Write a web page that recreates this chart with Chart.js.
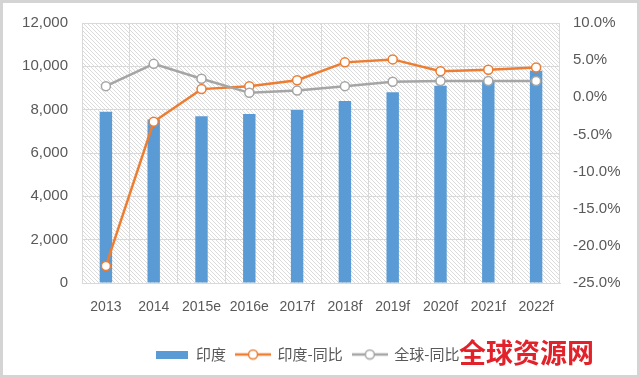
<!DOCTYPE html>
<html>
<head>
<meta charset="utf-8">
<script src="https://cdn.jsdelivr.net/npm/chart.js@4.4.1/dist/chart.umd.min.js"></script>
<style>
  html, body { margin: 0; padding: 0; background: #fff; }
  #wrap { width: 640px; height: 378px; position: relative; }
</style>
</head>
<body>
<div id="wrap"><canvas id="chart" width="640" height="378"></canvas></div>
<script>
// data
var years = ['2013', '2014', '2015e', '2016e', '2017f', '2018f', '2019f', '2020f', '2021f', '2022f'];
var indiaValues = [7900, 7550, 7700, 7800, 7980, 8400, 8800, 9100, 9300, 9800];
var indiaYoY = [-22.7, -3.3, 1.1, 1.5, 2.3, 4.7, 5.1, 3.5, 3.7, 4.0];
var globalYoY = [1.5, 4.5, 2.5, 0.6, 0.9, 1.5, 2.1, 2.2, 2.2, 2.2];
var leftTicks = [0, 2000, 4000, 6000, 8000, 10000, 12000];
var rightTicks = [-25, -20, -15, -10, -5, 0, 5, 10];

var blue = '#5B9BD5', orange = '#ED7D31', grey = '#A5A5A5';
var tickColor = '#595959';

function makeHatch() {
    var c = document.createElement('canvas');
    c.width = 4; c.height = 4;
    var g = c.getContext('2d');
    g.fillStyle = '#ffffff';
    g.fillRect(0, 0, 4, 4);
    g.strokeStyle = '#dadada';
    g.lineWidth = 1;
    g.beginPath();
    g.moveTo(-1, -1); g.lineTo(5, 5);
    g.moveTo(-1, 3); g.lineTo(1, 5);
    g.moveTo(3, -1); g.lineTo(5, 1);
    g.stroke();
    return c;
}

function barIcon() {
    var c = document.createElement('canvas');
    c.width = 32; c.height = 8;
    var g = c.getContext('2d');
    g.fillStyle = blue;
    g.fillRect(0, 0, 32, 8);
    return c;
}

function lineIcon(color) {
    var c = document.createElement('canvas');
    c.width = 36; c.height = 12;
    var g = c.getContext('2d');
    g.strokeStyle = color;
    g.lineWidth = 2.5;
    g.beginPath();
    g.moveTo(0, 6); g.lineTo(36, 6);
    g.stroke();
    g.beginPath();
    g.arc(18, 6, 4.5, 0, Math.PI * 2);
    g.fillStyle = '#fff';
    g.fill();
    g.lineWidth = 1.5;
    g.stroke();
    return c;
}

var icons = [barIcon(), lineIcon(orange), lineIcon(grey)];

var decor = {
    id: 'decor',
    afterLayout: function (chart) {
        // legend sits a little left of centre in the original
        if (chart.legend) {
            chart.legend.left -= 26;
        }
    },
    beforeDraw: function (chart) {
        var a = chart.chartArea, ctx = chart.ctx;
        ctx.save();
        ctx.fillStyle = ctx.createPattern(makeHatch(), 'repeat');
        ctx.fillRect(a.left, a.top, a.right - a.left, a.bottom - a.top);
        ctx.restore();
    },
    afterDraw: function (chart) {
        var ctx = chart.ctx;
        ctx.save();
        ctx.strokeStyle = '#d4d4d4';
        ctx.lineWidth = 3;
        ctx.strokeRect(1.5, 1.5, chart.width - 3, chart.height - 3);
        ctx.font = 'bold 27px "Noto Sans CJK SC"';
        ctx.fillStyle = '#e2222b';
        ctx.textBaseline = 'middle';
        ctx.textAlign = 'left';
        ctx.fillText('全球资源网', 459, 353);
        ctx.restore();
    }
};

var ctx = document.getElementById('chart').getContext('2d');

var graph = new Chart(ctx, {
    type: 'bar',
    data: {
        labels: years,
        datasets: [
            {
                label: '印度',
                data: indiaValues,
                backgroundColor: blue,
                yAxisID: 'y',
                barPercentage: 0.26,
                categoryPercentage: 1,
                order: 2
            },
            {
                type: 'line',
                label: '印度-同比',
                data: indiaYoY,
                yAxisID: 'y1',
                borderColor: orange,
                borderWidth: 2.5,
                pointRadius: 4.5,
                pointBorderWidth: 1.5,
                pointBackgroundColor: '#fff',
                pointBorderColor: orange,
                tension: 0,
                order: 1
            },
            {
                type: 'line',
                label: '全球-同比',
                data: globalYoY,
                yAxisID: 'y1',
                borderColor: grey,
                borderWidth: 2.5,
                pointRadius: 4.5,
                pointBorderWidth: 1.5,
                pointBackgroundColor: '#fff',
                pointBorderColor: grey,
                tension: 0,
                order: 0
            }
        ]
    },
    options: {
        responsive: false,
        animation: false,
        layout: { padding: { top: 21, bottom: 6, left: 0, right: 0 } },
        scales: {
            x: {
                grid: { color: '#d9d9d9', drawTicks: false, offset: true },
                border: { color: '#d9d9d9' },
                ticks: { color: tickColor, padding: 16, font: { family: 'Liberation Sans', size: 14 }, maxRotation: 0 },
                afterFit: function (s) { s.height = 54; }
            },
            y: {
                position: 'left',
                min: 0, max: 12000,
                afterBuildTicks: function (s) { s.ticks = leftTicks.map(function (v) { return { value: v }; }); },
                grid: { color: '#d9d9d9', drawTicks: false },
                border: { display: false },
                ticks: {
                    color: tickColor, padding: 14,
                    font: { family: 'Liberation Sans', size: 15 },
                    callback: function (v) { return v.toLocaleString('en-US'); }
                },
                afterFit: function (s) { s.width = 82; }
            },
            y1: {
                position: 'right',
                min: -25, max: 10,
                afterBuildTicks: function (s) { s.ticks = rightTicks.map(function (v) { return { value: v }; }); },
                grid: { display: false, drawTicks: false },
                border: { display: false },
                ticks: {
                    color: tickColor, padding: 13,
                    font: { family: 'Liberation Sans', size: 15 },
                    callback: function (v) { return v.toFixed(1) + '%'; }
                },
                afterFit: function (s) { s.width = 80; }
            }
        },
        plugins: {
            legend: {
                position: 'bottom',
                labels: {
                    color: tickColor,
                    padding: 10,
                    usePointStyle: true,
                    pointStyleWidth: 34,
                    font: { family: 'Noto Sans CJK SC', size: 15 },
                    sort: function (a, b) { return a.datasetIndex - b.datasetIndex; },
                    generateLabels: function (chart) {
                        var items = Chart.defaults.plugins.legend.labels.generateLabels(chart);
                        items.forEach(function (it) { it.pointStyle = icons[it.datasetIndex]; });
                        return items;
                    }
                }
            },
            tooltip: { enabled: false }
        }
    },
    plugins: [decor]
});
</script>
</body>
</html>
